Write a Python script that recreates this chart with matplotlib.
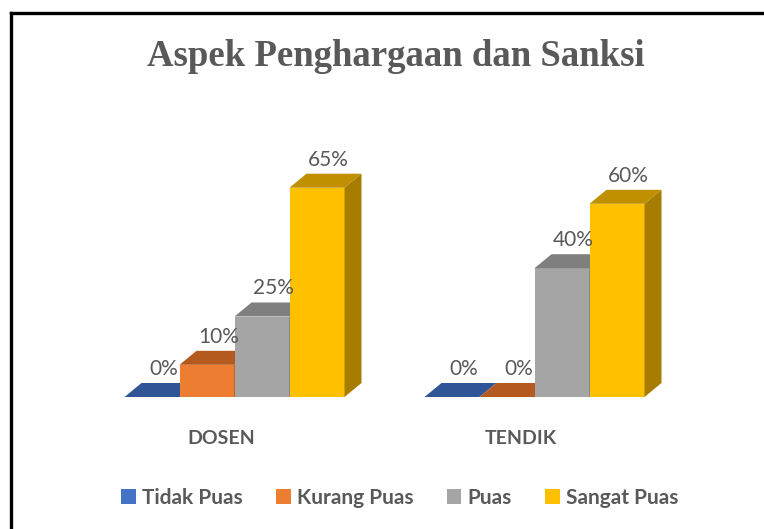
import matplotlib.pyplot as plt
from matplotlib.patches import Polygon, Patch
from matplotlib.lines import Line2D

categories = ['DOSEN', 'TENDIK']
series = ['Tidak Puas', 'Kurang Puas', 'Puas', 'Sangat Puas']
tidak_puas = [0, 0]
kurang_puas = [10, 0]
puas = [25, 40]
sangat_puas = [65, 60]
values = [tidak_puas, kurang_puas, puas, sangat_puas]

# front, top, side colours per series
front = ['#4472C4', '#ED7D31', '#A5A5A5', '#FFC000']
top = ['#2F5597', '#B55A1F', '#7F7F7F', '#C09000']
side = ['#264478', '#9E4A16', '#6E6E6E', '#A67D00']

txt = '#595959'
W, H = 764, 529
fig = plt.figure(figsize=(W / 100, H / 100), dpi=100)

# axes placed so one group step = 300 px, 1% = 3.22 px
ax = fig.add_axes([84.5 / W, (H - 397) / H, 600 / W, 241.5 / H])
ax.set_xlim(-0.5, 1.5)
ax.set_ylim(0, 75)
ax.axis('off')

bw = 55 / 300          # bar width in group units
ddx = 17 / 300         # depth offset x
ddy = 14 / 3.22        # depth offset y (percent units)

for gi, cat in enumerate(categories):
    x0 = gi - 2 * bw
    for si in range(len(series)):
        v = values[si][gi]
        xl = x0 + si * bw
        xr = xl + bw
        ax.add_patch(Polygon([(xl, 0), (xr, 0), (xr, v), (xl, v)],
                             closed=True, facecolor=front[si], edgecolor='none'))
        ax.add_patch(Polygon([(xl, v), (xr, v), (xr + ddx, v + ddy), (xl + ddx, v + ddy)],
                             closed=True, facecolor=top[si], edgecolor='none'))
        ax.add_patch(Polygon([(xr, 0), (xr + ddx, ddy), (xr + ddx, v + ddy), (xr, v)],
                             closed=True, facecolor=side[si], edgecolor='none'))
        ax.text(xl + bw / 2 + ddx / 2 + 0.01, v + ddy + 1.3, f'{v}%', ha='center',
                va='bottom', fontsize=15, color=txt, family='Lato', clip_on=False)

for gi, cat in enumerate(categories):
    ax.text(gi - 0.045, -13, cat, ha='center', va='center', fontsize=14,
            fontweight='bold', color=txt, family='Lato', clip_on=False)

fig.text(396 / W, 1 - 57 / H, 'Aspek Penghargaan dan Sanksi', ha='center', va='center',
         fontsize=26.5, fontweight='bold', color=txt, family='Liberation Serif')

handles = [Patch(facecolor=c, edgecolor='none') for c in front]
fig.legend(handles, series, loc='center', bbox_to_anchor=(400 / W, 1 - 498 / H),
           ncol=4, frameon=False, handlelength=0.7, handleheight=0.7,
           handletextpad=0.3, columnspacing=1.6,
           prop={'family': 'Lato', 'size': 15, 'weight': 'bold'}, labelcolor=txt)

# outer frame of the chart
fig.add_artist(Line2D([11 / W, 11 / W], [0, 1 - 13 / H], color='black', lw=2.4,
                      transform=fig.transFigure))
fig.add_artist(Line2D([11 / W, 1], [1 - 13 / H, 1 - 13 / H], color='black', lw=2.4,
                      transform=fig.transFigure))

fig.savefig('out.png', dpi=100)
